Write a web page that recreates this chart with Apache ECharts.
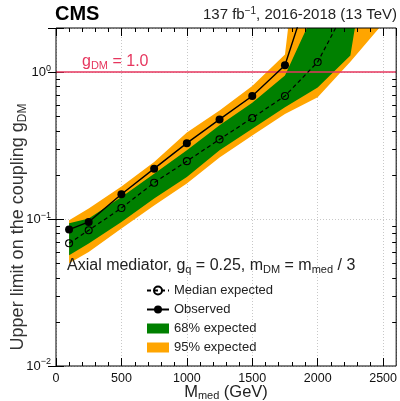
<!DOCTYPE html>
<html><head><meta charset="utf-8">
<script src="https://cdn.jsdelivr.net/npm/echarts@6/dist/echarts.min.js"></script>
<style>html,body{margin:0;padding:0;background:#fff}#c{width:400px;height:401px}</style>
</head><body><div id="c"></div>
<script>
// ---- data ----
const massObs  = [100, 250, 500, 750, 1000, 1250, 1500, 1750, 2000];
const observed = [0.0849, 0.0957, 0.1476, 0.2206, 0.329, 0.477, 0.689, 1.114, 5.4];
const massExp  = [100, 250, 500, 750, 1000, 1250, 1500, 1750, 2000, 2250];
const expected = [0.0685, 0.084, 0.1189, 0.177, 0.248, 0.349, 0.488, 0.689, 1.173, 3.1];
const massBand = [100, 250, 500, 750, 1000, 1250, 1500, 1750, 2000, 2250, 2500];
const band68Lo = [0.0568, 0.0682, 0.0957, 0.138, 0.1934, 0.294, 0.412, 0.578, 0.787, 1.30, 30];
const band68Hi = [0.0937, 0.101, 0.1415, 0.204, 0.294, 0.435, 0.619, 0.950, 2.9, 20, 50];
const band95Lo = [0.0501, 0.0598, 0.0863, 0.124, 0.175, 0.263, 0.371, 0.520, 0.676, 1.18, 2.15];
const band95Hi = [0.0983, 0.118, 0.167, 0.2445, 0.389, 0.549, 0.805, 1.32, 100, 200, 300];
const couplingRef = [1.0];
const xRange = [0, 2600];
const yRange = [0.01, 2];
const xMinorTicks = [100,200,300,400,600,700,800,900,1100,1200,1300,1400,1600,1700,1800,1900,2100,2200,2300,2400];
const yMinorTicks = [0.02,0.03,0.04,0.05,0.06,0.07,0.08,0.09,0.2,0.3,0.4,0.5,0.6,0.7,0.8,0.9];

const FONT = '"Liberation Sans", Arial, Helvetica, sans-serif';
const GREEN = '#008000', ORANGE = '#ffa500', RED = '#e6365e';

function bandSeries(name, lo, hi, color, z) {
  return {
    type: 'custom', name: name, z: z, clip: true, silent: true,
    itemStyle: { color: color },
    data: massBand.map((m, i) => [m, lo[i], hi[i]]),
    encode: { x: 0, y: [1, 2] },
    renderItem: function (params, api) {
      if (params.dataIndex !== 0) return null;
      const pts = [];
      for (let i = 0; i < massBand.length; i++) pts.push(api.coord([massBand[i], hi[i]]));
      for (let i = massBand.length - 1; i >= 0; i--) pts.push(api.coord([massBand[i], lo[i]]));
      return { type: 'polygon', shape: { points: pts }, style: { fill: color } };
    }
  };
}

function supFmt(v) {
  const e = Math.round(Math.log10(v));
  if (Math.abs(v - Math.pow(10, e)) / v > 1e-6) return '';
  return '{b|10}{s|' + (e < 0 ? '\u2212' + (-e) : e) + '}';
}

const chart = echarts.init(document.getElementById('c'), null, { renderer: 'canvas' });
chart.setOption({
  animation: false,
  backgroundColor: '#fff',
  grid: { left: 56, right: 3, top: 28, bottom: 35, show: true, borderColor: '#000', borderWidth: 1, backgroundColor: 'transparent', z: 20 },
  xAxis: [{
    type: 'value', min: xRange[0], max: xRange[1], interval: 500, position: 'bottom',
    axisLine: { show: false },
    axisTick: { inside: true, length: 8, lineStyle: { color: '#000' } },
    axisLabel: { margin: 6, fontSize: 12.5, fontFamily: FONT, color: '#111', showMaxLabel: false,
      formatter: v => (v % 500 === 0 && v <= 2500) ? String(v) : '' },
    splitLine: { show: true, lineStyle: { color: '#c8c8c8', type: [1, 2], width: 1 } }
  }, {
    type: 'value', min: xRange[0], max: xRange[1], interval: 500, position: 'top',
    axisLine: { show: false },
    axisTick: { inside: true, length: 8, lineStyle: { color: '#000' } },
    axisLabel: { show: false }, splitLine: { show: false }
  }],
  yAxis: [{
    type: 'log', logBase: 10, min: yRange[0], max: yRange[1], position: 'left',
    axisLine: { show: false },
    axisTick: { inside: true, length: 8, lineStyle: { color: '#000' } },
    axisLabel: { margin: 5, fontFamily: FONT, color: '#111', formatter: supFmt,
      rich: { b: { fontSize: 13, fontFamily: FONT, color: '#111' },
              s: { fontSize: 9, fontFamily: FONT, color: '#111', verticalAlign: 'top', padding: [0, 0, 8, 0] } } },
    splitLine: { show: true, lineStyle: { color: '#c8c8c8', type: [1, 2], width: 1 } }
  }, {
    type: 'log', logBase: 10, min: yRange[0], max: yRange[1], position: 'right',
    axisLine: { show: false },
    axisTick: { inside: true, length: 8, lineStyle: { color: '#000' } },
    axisLabel: { show: false }, splitLine: { show: false }
  }],
  legend: {
    left: 141, top: 279, orient: 'vertical', itemGap: 6, itemWidth: 22, itemHeight: 10,
    textStyle: { fontSize: 13, fontFamily: FONT, color: '#222' },
    data: [{ name: 'Median expected' }, { name: 'Observed' },
           { name: '68% expected', icon: 'rect' }, { name: '95% expected', icon: 'rect' }]
  },
  series: [
    bandSeries('95% expected', band95Lo, band95Hi, ORANGE, 1),
    bandSeries('68% expected', band68Lo, band68Hi, GREEN, 2),
    {
      type: 'line', name: 'Median expected', z: 5, clip: true,
      data: massExp.map((m, i) => [m, expected[i]]),
      symbol: 'circle', symbolSize: 7,
      itemStyle: { color: 'rgba(0,0,0,0)', borderColor: '#000', borderWidth: 1.1 },
      lineStyle: { color: '#000', width: 1.2, type: [4, 3] }
    },
    {
      type: 'line', name: 'Observed', z: 6, clip: true,
      data: massObs.map((m, i) => [m, observed[i]]),
      symbol: 'circle', symbolSize: 8,
      itemStyle: { color: '#000' },
      lineStyle: { color: '#000', width: 1.4 },
      markLine: { silent: true, symbol: 'none', label: { show: false }, z: 4,
        lineStyle: { color: RED, width: 1.5, type: 'solid' },
        data: couplingRef.map(v => ({ yAxis: v })) }
    },
    {
      type: 'custom', z: 21, silent: true, clip: false,
      data: yMinorTicks.map(v => [xRange[0], v]),
      renderItem: function (params, api) {
        const v = yMinorTicks[params.dataIndex];
        const l = api.coord([xRange[0], v]), r = api.coord([xRange[1], v]);
        const y = Math.round(l[1]) + 0.5;
        return { type: 'group', children: [
          { type: 'line', shape: { x1: l[0], y1: y, x2: l[0] + 4, y2: y }, style: { stroke: '#000', lineWidth: 1 } },
          { type: 'line', shape: { x1: r[0], y1: y, x2: r[0] - 4, y2: y }, style: { stroke: '#000', lineWidth: 1 } }
        ] };
      }
    },
    {
      type: 'custom', z: 21, silent: true, clip: false,
      data: xMinorTicks.map(v => [v, yRange[0]]),
      renderItem: function (params, api) {
        const v = xMinorTicks[params.dataIndex];
        const b = api.coord([v, yRange[0]]), t = api.coord([v, yRange[1]]);
        const x = Math.round(b[0]) + 0.5;
        return { type: 'group', children: [
          { type: 'line', shape: { x1: x, y1: b[1], x2: x, y2: b[1] - 4 }, style: { stroke: '#000', lineWidth: 1 } },
          { type: 'line', shape: { x1: x, y1: t[1], x2: x, y2: t[1] + 4 }, style: { stroke: '#000', lineWidth: 1 } }
        ] };
      }
    }
  ],
  graphic: [
    { type: 'text', left: 55, top: 4, z: 30, style: { text: 'CMS', font: 'bold 20px ' + FONT, fill: '#000' } },
    { type: 'text', right: 3, top: 6, z: 30, style: {
        text: '{b|137 fb}{s|\u22121}{b|, 2016-2018 (13 TeV)}',
        rich: { b: { fontSize: 15, fontFamily: FONT, fill: '#222', lineHeight: 18 },
                s: { fontSize: 10, fontFamily: FONT, fill: '#222', verticalAlign: 'top', lineHeight: 11 } } } },
    { type: 'text', left: 82, top: 54, z: 30, style: {
        text: '{b|g}{d|DM}{b| = 1.0}',
        rich: { b: { fontSize: 16, fontFamily: FONT, fill: RED, lineHeight: 19 },
                d: { fontSize: 11, fontFamily: FONT, fill: RED, verticalAlign: 'bottom', lineHeight: 13 } } } },
    { type: 'text', left: 67, top: 258, z: 30, style: {
        text: '{b|Axial mediator, g}{d|q}{b| = 0.25, m}{d|DM}{b| = m}{d|med}{b| / 3}',
        rich: { b: { fontSize: 16, fontFamily: FONT, fill: '#222', lineHeight: 19 },
                d: { fontSize: 11, fontFamily: FONT, fill: '#222', verticalAlign: 'bottom', lineHeight: 13 } } } },
    { type: 'text', x: 226, y: 392, z: 30, style: {
        text: '{b|M}{d|med}{b| (GeV)}', align: 'center', verticalAlign: 'middle',
        rich: { b: { fontSize: 16.5, fontFamily: FONT, fill: '#222', lineHeight: 19 },
                d: { fontSize: 11, fontFamily: FONT, fill: '#222', verticalAlign: 'bottom', lineHeight: 13 } } } },
    { type: 'text', x: 18, y: 227, rotation: Math.PI / 2, z: 30, style: {
        text: '{b|Upper limit on the coupling g}{d|DM}', align: 'center', verticalAlign: 'middle',
        rich: { b: { fontSize: 18, fontFamily: FONT, fill: '#333', lineHeight: 21 },
                d: { fontSize: 12, fontFamily: FONT, fill: '#333', verticalAlign: 'bottom', lineHeight: 14 } } } }
  ]
});
</script></body></html>
